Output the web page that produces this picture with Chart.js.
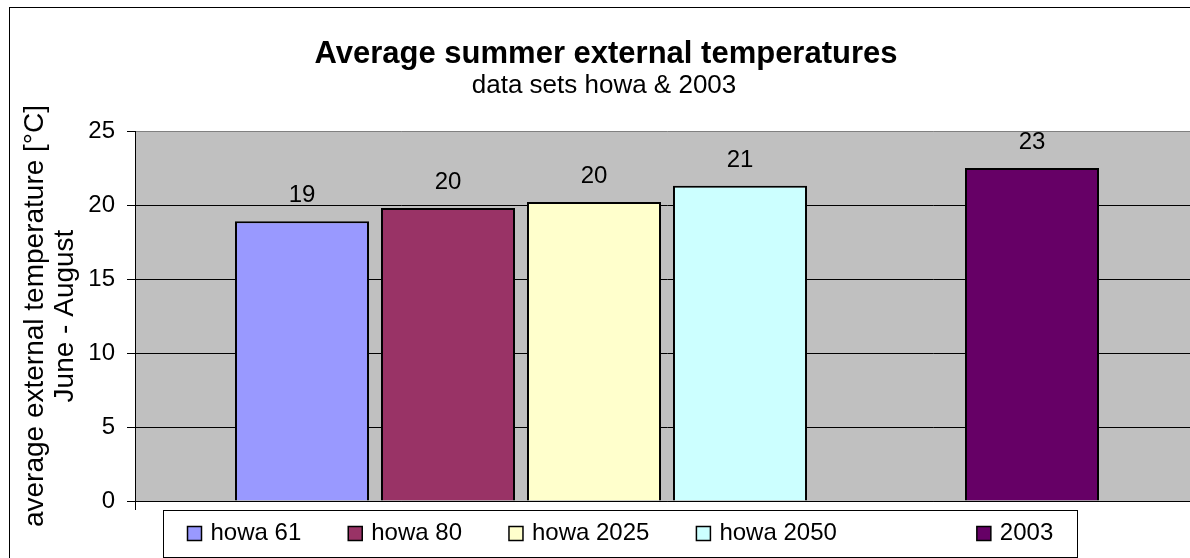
<!DOCTYPE html>
<html>
<head>
<meta charset="utf-8">
<script src="https://cdn.jsdelivr.net/npm/chart.js@4.4.1/dist/chart.umd.min.js"></script>
<style>
  html, body { margin: 0; padding: 0; background: #fff; overflow: hidden; }
  #wrap { position: relative; width: 1240px; height: 570px; }
</style>
</head>
<body>
<div id="wrap"><canvas id="chart" width="1240" height="570"></canvas></div>
<script>
// one category, one bar per data set (the empty slot keeps the gap before 2003)
const series = ["howa 61", "howa 80", "howa 2025", "howa 2050", "", "2003"]
const temps = [18.9, 19.8, 20.2, 21.3, null, 22.5]
const colors = ["#9999ff", "#993366", "#ffffcc", "#ccffff", "rgba(0,0,0,0)", "#660066"]
const yTicks = [0, 5, 10, 15, 20, 25]
const chartTitle = "Average summer external temperatures"
const chartSubtitle = "data sets howa & 2003"
const yTitle = ["average external temperature [°C]", "June - August"]

const FONT = "'Liberation Sans', Arial, Helvetica, sans-serif"

const background = {
    id: "background",
    beforeDraw(chart) {
        const ctx = chart.ctx
        const a = chart.chartArea
        ctx.save()
        ctx.fillStyle = "#fff"
        ctx.fillRect(0, 0, chart.width, chart.height)
        ctx.fillStyle = "#c0c0c0"
        ctx.fillRect(a.left, a.top, a.right - a.left, a.bottom - a.top)
        ctx.strokeStyle = "#000"
        ctx.lineWidth = 1
        ctx.strokeRect(9.5, 7.5, chart.width - 20, chart.height - 10)
        ctx.restore()
    }
}

const titles = {
    id: "titles",
    afterDraw(chart) {
        const ctx = chart.ctx
        ctx.save()
        ctx.fillStyle = "#000"
        ctx.textAlign = "center"
        ctx.textBaseline = "alphabetic"
        ctx.font = `bold 31px ${FONT}`
        ctx.fillText(chartTitle, 606, 63)
        ctx.font = `26px ${FONT}`
        ctx.fillText(chartSubtitle, 604, 93)
        ctx.restore()
    }
}

// rounded value above each bar
const valueLabels = {
    id: "valueLabels",
    afterDatasetsDraw(chart) {
        const ctx = chart.ctx
        ctx.save()
        ctx.fillStyle = "#000"
        ctx.font = `24px ${FONT}`
        ctx.textAlign = "center"
        ctx.textBaseline = "alphabetic"
        chart.data.datasets.forEach((ds, i) => {
            const v = ds.data[0]
            if (v == null) return
            const bar = chart.getDatasetMeta(i).data[0]
            ctx.fillText(String(Math.round(v)), bar.x, bar.y - 19)
        })
        ctx.restore()
    }
}

const legendBox = {
    id: "legendBox",
    afterDraw(chart) {
        const ctx = chart.ctx
        const sw = 14, textGap = 9, itemGap = 47, padX = 24, blankW = 46
        ctx.save()
        ctx.font = `24px ${FONT}`
        const widths = series.map(s => s ? sw + textGap + ctx.measureText(s).width : blankW)
        const inner = widths.reduce((a, b) => a + b, 0) + itemGap * (series.length - 1)
        const w = inner + padX * 2
        const x0 = Math.round(chart.width / 2 - w / 2) + 0.5
        const y0 = Math.round(chart.chartArea.bottom) + 9.5
        ctx.fillStyle = "#fff"
        ctx.fillRect(x0, y0, w, 47)
        ctx.strokeStyle = "#000"
        ctx.lineWidth = 1
        ctx.strokeRect(x0, y0, Math.round(w), 47)
        let x = x0 + padX
        series.forEach((s, i) => {
            if (s) {
                ctx.fillStyle = colors[i]
                ctx.fillRect(x, y0 + 16, sw, sw)
                ctx.lineWidth = 1.5
                ctx.strokeRect(x, y0 + 16, sw, sw)
                ctx.fillStyle = "#000"
                ctx.textAlign = "left"
                ctx.textBaseline = "alphabetic"
                ctx.fillText(s, x + sw + textGap, y0 + 29)
            }
            x += widths[i] + itemGap
        })
        ctx.restore()
    }
}

const datasets = series.map((name, i) => ({
    label: name,
    data: [temps[i]],
    backgroundColor: colors[i],
    borderColor: "#000",
    borderWidth: 2,
    categoryPercentage: 0.8233,
    barPercentage: 0.918
}))

new Chart(document.getElementById("chart"), {
    type: "bar",
    data: { labels: [""], datasets: datasets },
    options: {
        responsive: false,
        animation: false,
        devicePixelRatio: 1,
        layout: { padding: { left: 0, top: 131, right: 41, bottom: 49 } },
        plugins: {
            legend: { display: false },
            title: { display: false },
            tooltip: { enabled: false }
        },
        scales: {
            x: {
                grid: { display: true, drawOnChartArea: false, drawTicks: true, tickLength: 9, color: "#000", offset: true },
                border: { display: true, color: "#000", width: 1 },
                ticks: { display: false },
                afterFit(scale) { scale.height = 20 }
            },
            y: {
                min: 0,
                max: 25,
                afterBuildTicks(scale) { scale.ticks = yTicks.map(v => ({ value: v })) },
                ticks: { color: "#000", padding: 12, font: { family: FONT, size: 24 } },
                grid: {
                    color: c => (c.tick && c.tick.value === 25 ? "#808080" : "#000"),
                    tickColor: "#000",
                    tickLength: 8,
                    lineWidth: 1
                },
                border: { display: true, color: "#000", width: 1 },
                title: {
                    display: true,
                    text: yTitle,
                    color: "#000",
                    font: { family: FONT, size: 28, lineHeight: 1.07 },
                    padding: { top: 20, bottom: 0 }
                },
                afterFit(scale) { scale.width = 135 }
            }
        }
    },
    plugins: [background, titles, valueLabels, legendBox]
})
</script>
</body>
</html>
